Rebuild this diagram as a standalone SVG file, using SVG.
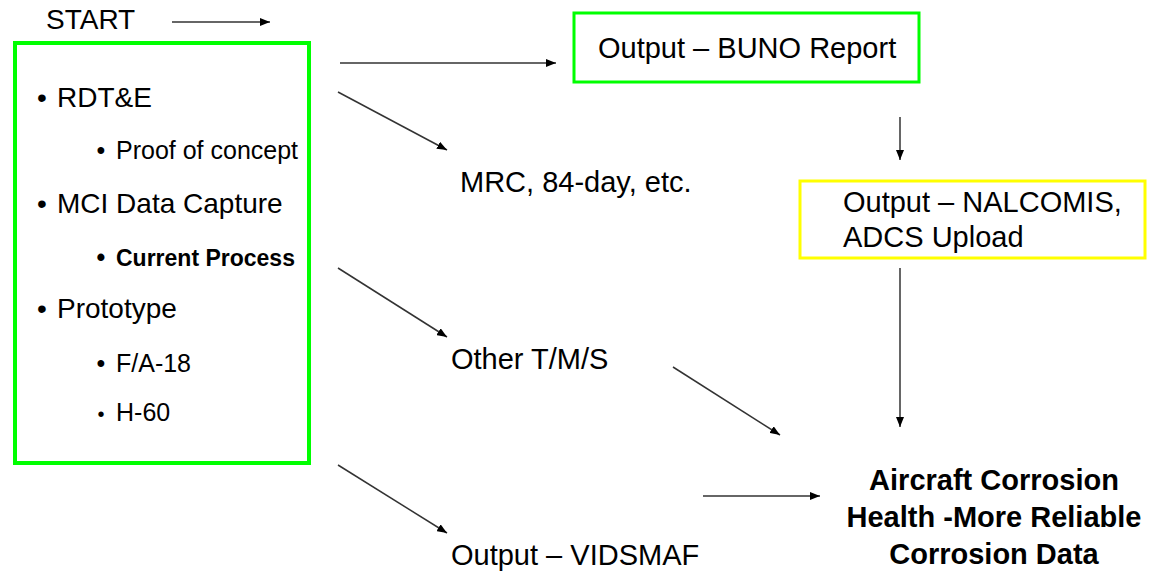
<svg xmlns="http://www.w3.org/2000/svg" width="1152" height="571" viewBox="0 0 1152 571">
<defs>
<style>
text{font-family:"Liberation Sans",Arial,sans-serif;fill:#000}
.l1{font-size:28px}
.l2{font-size:25px}
.r{font-size:29px}
.b{font-weight:bold}
.gbox{fill:#fff;stroke:#00ff00;stroke-width:4}
.ybox{fill:#fff;stroke:#ffff00;stroke-width:3}
.c{stroke:#333;stroke-width:1.5;fill:none;marker-end:url(#ah)}
</style>
<marker id="ah" viewBox="0 0 10 8" refX="10" refY="4" markerWidth="10" markerHeight="8" markerUnits="userSpaceOnUse" orient="auto">
<path d="M0,0 L10,4 L0,8 z" fill="#000"/>
</marker>
</defs>
<rect width="1152" height="571" fill="#fff"/>
<g id="start">
<text class="l1" x="46" y="29">START</text>
</g>
<g id="source">
<rect class="gbox" x="15" y="43" width="294" height="420"/>
<text class="l1" x="42" y="107" text-anchor="middle">•</text>
<text class="l1" x="57" y="107">RDT&amp;E</text>
<text class="l2" x="101" y="159" text-anchor="middle">•</text>
<text class="l2" x="116" y="159">Proof of concept</text>
<text class="l1" x="42" y="213" text-anchor="middle">•</text>
<text class="l1" x="57" y="213">MCI Data Capture</text>
<text class="l2 b" x="101" y="266" text-anchor="middle">•</text>
<text class="b" style="font-size:23px" x="116" y="266">Current Process</text>
<text class="l1" x="42" y="318" text-anchor="middle">•</text>
<text class="l1" x="57" y="318">Prototype</text>
<text class="l2" x="101" y="372" text-anchor="middle">•</text>
<text class="l2" x="116" y="372">F/A-18</text>
<text class="l2" x="101" y="421" text-anchor="middle" style="font-size:20px">•</text>
<text class="l2" x="116" y="421">H-60</text>
</g>
<g id="buno">
<rect class="gbox" x="574" y="13" width="345" height="69" style="stroke-width:3"/>
<text class="r" x="598" y="58">Output – BUNO Report</text>
</g>
<g id="nalcomis">
<rect class="ybox" x="800" y="181" width="345" height="77"/>
<text class="r" x="843" y="212">Output – NALCOMIS,</text>
<text class="r" x="843" y="247">ADCS Upload</text>
</g>
<g id="mrc">
<text class="r" x="460" y="192">MRC, 84-day, etc.</text>
</g>
<g id="other">
<text class="r" x="451" y="369">Other T/M/S</text>
</g>
<g id="vidsmaf">
<text class="r" x="451" y="565">Output – VIDSMAF</text>
</g>
<g id="health">
<text class="r b" x="994" y="490" text-anchor="middle">Aircraft Corrosion</text>
<text class="r b" x="994" y="527" text-anchor="middle">Health -More Reliable</text>
<text class="r b" x="994" y="564" text-anchor="middle">Corrosion Data</text>
</g>
<g id="connectors">
<line class="c" x1="172" y1="22" x2="270" y2="22"/>
<line class="c" x1="340" y1="63" x2="556" y2="63"/>
<line class="c" x1="338" y1="92" x2="447" y2="150"/>
<line class="c" x1="338" y1="268" x2="447" y2="337"/>
<line class="c" x1="338" y1="465" x2="447" y2="533"/>
<line class="c" x1="900" y1="117" x2="900" y2="160"/>
<line class="c" x1="900" y1="268" x2="900" y2="427"/>
<line class="c" x1="673" y1="367" x2="780" y2="435"/>
<line class="c" x1="703" y1="496" x2="820" y2="496"/>
</g>
</svg>
